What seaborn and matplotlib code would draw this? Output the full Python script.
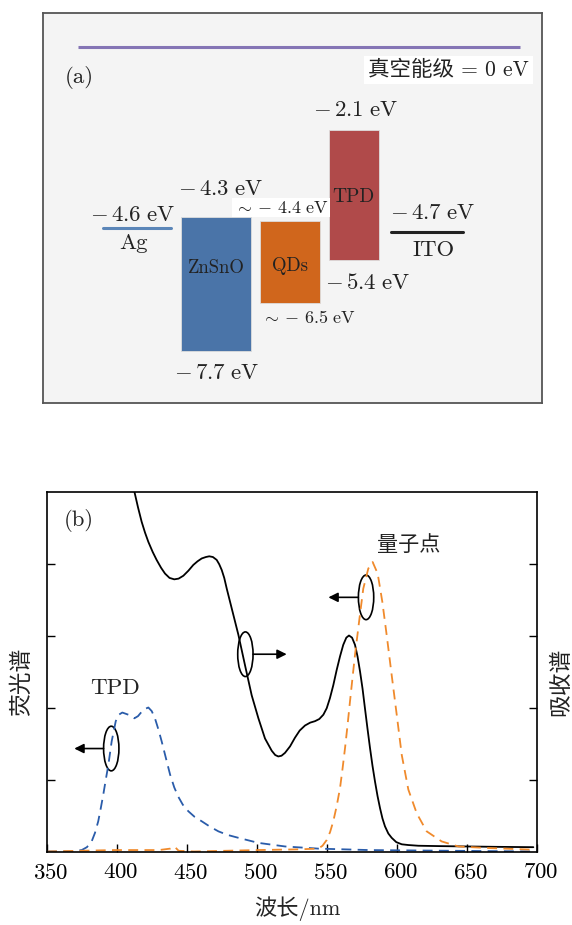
import matplotlib
matplotlib.use("Agg")
import matplotlib.pyplot as plt
import matplotlib.transforms as mtransforms
from matplotlib.patches import Ellipse
import numpy as np
import seaborn as sns

# ---- panel (a): energy levels (eV) ----
layers = ["ZnSnO", "QDs", "TPD"]
cb_edge = [-4.3, -4.4, -2.1]
vb_edge = [-7.7, -6.5, -5.4]
electrodes = ["Ag", "ITO"]
work_fn = [-4.6, -4.7]
vacuum_level = 0.0

# ---- panel (b): spectra ----
abs_wl = [408, 410.5, 412.4, 415, 417.6, 420, 422.4, 425.5, 428.3, 431.5, 434.3, 437.5,
          440.9, 444, 447.4, 451, 454.5, 457.5, 460.5, 463.5, 465.9, 468.5, 471.2, 473,
          474.8, 476.6, 478.4, 481.9, 486.7, 491.4, 496.2, 501.0, 505.7, 510.5, 513,
          515.2, 517.5, 520, 523.6, 527.1, 530.5, 534.3, 538, 541.4, 544.5, 547.4, 549.8,
          552.1, 554.5, 556.9, 559.3, 561.6, 563.8, 565.7, 567.9, 570, 571.8, 573.6,
          575.4, 577.1, 578.9, 580.7, 582.5, 584.3, 586.1, 587.9, 589.6, 591.4, 593.8,
          596.2, 599.5, 603.4, 608, 615.2, 630, 649.8, 670, 697.4]
abs_val = [5.42, 5.18, 5.0, 4.78, 4.58, 4.43, 4.3, 4.16, 4.05, 3.94, 3.86, 3.8,
           3.78, 3.79, 3.83, 3.9, 3.98, 4.03, 4.07, 4.09, 4.1, 4.09, 4.05, 3.99,
           3.91, 3.8, 3.65, 3.38, 3.01, 2.59, 2.17, 1.85, 1.57, 1.4, 1.34,
           1.32, 1.33, 1.37, 1.46, 1.58, 1.68, 1.75, 1.79, 1.81, 1.84, 1.9, 1.99,
           2.13, 2.31, 2.52, 2.71, 2.87, 2.97, 3.0, 2.97, 2.87, 2.71, 2.5,
           2.26, 1.99, 1.71, 1.44, 1.19, 0.97, 0.77, 0.6, 0.46, 0.35, 0.25,
           0.19, 0.13, 0.1, 0.09, 0.08, 0.075, 0.07, 0.065, 0.06]

tpd_wl = [350, 366, 374.8, 378.5, 381.9, 384.3, 386.6, 388.4, 390.2, 392, 393.8, 396.2,
          399.1, 401.3, 403.8, 408.1, 412.4, 415, 417.6, 420, 422.4, 424.8, 427.1, 429.5,
          431.9, 434.9, 437.9, 440.9, 443.8, 447, 450.9, 455.5, 460.5, 466, 472.4, 479,
          486.7, 500.9, 520, 543.8, 580, 640, 700]
tpd_val = [0.0, 0.0, 0.02, 0.06, 0.14, 0.26, 0.42, 0.6, 0.79, 1.0, 1.2, 1.53,
           1.81, 1.9, 1.93, 1.9, 1.85, 1.88, 1.94, 1.98, 2.0, 1.95, 1.85, 1.7,
           1.53, 1.3, 1.07, 0.89, 0.76, 0.65, 0.56, 0.48, 0.42, 0.35, 0.28, 0.23,
           0.19, 0.12, 0.07, 0.04, 0.02, 0.01, 0.0]

qd_wl = [350, 398, 430, 438, 441, 444, 455, 500, 530, 543.8, 546.8, 549.8, 552.2, 554.5,
         556.9, 559.3, 561.1, 562.9, 564.7, 566.4, 568.2, 570, 572.9, 575.9, 579.5, 582.6,
         586.2, 589.5, 592.6, 596.2, 599.8, 603.4, 608.1, 614.1, 621.2, 631.9, 643.8,
         662.9, 697.4]
qd_val = [0.0, 0.02, 0.02, 0.04, 0.07, 0.01, 0.0, 0.02, 0.03, 0.04, 0.08, 0.16, 0.27, 0.42,
          0.63, 0.88, 1.15, 1.44, 1.76, 2.08, 2.41, 2.73, 3.19, 3.65, 3.93, 4.02,
          3.86, 3.47, 3.01, 2.45, 1.9, 1.34, 0.86, 0.53, 0.28, 0.14, 0.07,
          0.05, 0.025]

wl_ticks = [350, 400, 450, 500, 550, 600, 650, 700]

ZNSNO_C, QD_C, TPD_C = "#4a74a8", "#d0661c", "#b04a4a"

sns.set_theme(style="ticks")
plt.rcParams["font.family"] = ["cmr10", "Noto Sans CJK SC", "DejaVu Sans"]
plt.rcParams["mathtext.fontset"] = "cm"
plt.rcParams["axes.formatter.use_mathtext"] = True
plt.rcParams["text.color"] = "#222222"

fig = plt.figure(figsize=(5.72, 9.25), dpi=100)
PX = 0.72  # points per pixel

# ================= panel (a) =================
ax_a = fig.add_axes([43 / 572, 1 - 403 / 925, 499 / 572, 390 / 925])
ax_a.set_facecolor("#f4f4f4")
ax_a.set_xlim(0, 100)
ax_a.set_ylim(-9.02, 0.853)
ax_a.set_xticks([])
ax_a.set_yticks([])
for sp in ax_a.spines.values():
    sp.set_color("#555555")
    sp.set_linewidth(1.3)

centers = [34.7, 49.5, 62.3]
widths = [14.0, 12.0, 10.0]
colors = [ZNSNO_C, QD_C, TPD_C]
heights = np.subtract(cb_edge, vb_edge)
ax_a.bar(centers, heights, bottom=vb_edge, width=widths, color=colors,
         edgecolor="#dddddd", linewidth=0.6, zorder=2)

# vacuum level
ax_a.plot([7.0, 95.6], [vacuum_level, vacuum_level], color="#8575b5", lw=2.2,
          solid_capstyle="butt")
ax_a.text(81.2, -0.59, "真空能级 = 0 eV", fontsize=15.5, ha="center", va="center",
          bbox=dict(facecolor="white", edgecolor="none", pad=3))
ax_a.text(4.4, -0.77, "(a)", fontsize=16.5, ha="left", va="center")

# electrodes
ax_a.plot([12.0, 25.7], [work_fn[0]] * 2, color="#5b86b8", lw=2.2)
ax_a.plot([69.7, 84.2], [work_fn[1]] * 2, color="#222222", lw=2.2)


def elabel(x, e, dy_px, txt, size=16.4, **kw):
    ax_a.annotate(txt, xy=(x, e), xytext=(0, dy_px * PX), textcoords="offset points",
                  ha="center", va="center", fontsize=size, **kw)


ev = lambda v: r"$-\,%.1f\ \mathrm{eV}$" % abs(v)
sim_ev = lambda v: r"$\sim-\,%.1f\ \mathrm{eV}$" % abs(v)
elabel(35.7, cb_edge[0], 27, ev(cb_edge[0]))
elabel(34.9, vb_edge[0], -22, ev(vb_edge[0]))
elabel(47.7, cb_edge[1], 13, sim_ev(cb_edge[1]), size=13,
       bbox=dict(facecolor="white", edgecolor="none", pad=1))
elabel(53.1, vb_edge[1], -14, sim_ev(vb_edge[1]), size=13)
elabel(62.7, cb_edge[2], 19, ev(cb_edge[2]))
elabel(65.1, vb_edge[2], -23, ev(vb_edge[2]))
elabel(18.0, work_fn[0], 13, ev(work_fn[0]))
elabel(18.2, work_fn[0], -15, electrodes[0])
elabel(78.2, work_fn[1], 19, ev(work_fn[1]))
elabel(78.2, work_fn[1], -18, electrodes[1])

ax_a.text(centers[0], -5.6, layers[0], fontsize=13.5, ha="center", va="center", zorder=3)
ax_a.text(centers[1], -5.55, layers[1], fontsize=13.5, ha="center", va="center", zorder=3)
ax_a.text(centers[2], -3.8, layers[2], fontsize=14, ha="center", va="center", zorder=3)

# ================= panel (b) =================
ax_b = fig.add_axes([47 / 572, 1 - 851.5 / 925, 490 / 572, 360 / 925])
sns.lineplot(x=abs_wl, y=abs_val, ax=ax_b, color="black", lw=1.3, sort=False)
sns.lineplot(x=tpd_wl, y=tpd_val, ax=ax_b, color="#2a5caa", lw=1.3, sort=False,
             linestyle=(0, (5.5, 3.5)))
sns.lineplot(x=qd_wl, y=qd_val, ax=ax_b, color="#f08a2c", lw=1.3, sort=False,
             linestyle=(0, (5.5, 3.5)))

ax_b.set_xlim(350, 700)
ax_b.set_ylim(0, 5)
ax_b.set_xticks(wl_ticks)
ax_b.set_yticks([1, 2, 3, 4])
ax_b.set_yticklabels([])
ax_b.tick_params(direction="in", length=5.5, width=1, labelsize=16.5, right=True,
                 colors="black", pad=8)
shift = mtransforms.ScaledTranslation(3.5 / 100, 0, fig.dpi_scale_trans)
for lab in ax_b.get_xticklabels():
    lab.set_transform(lab.get_transform() + shift)
for sp in ax_b.spines.values():
    sp.set_color("black")
    sp.set_linewidth(1.2)
ax_b.set_xlabel("波长/nm", fontsize=16, labelpad=11)
ax_b.xaxis.set_label_coords(0.51, -0.125)
ax_b.text(-0.0516, 0.47, "荧光谱", transform=ax_b.transAxes, rotation=90, fontsize=16.4,
          ha="center", va="center")
ax_b.text(1.049, 0.47, "吸收谱", transform=ax_b.transAxes, rotation=90, fontsize=16.4,
          ha="center", va="center")

for (cx, cy), tip in [((395.9, 1.43), 369.5), ((491.7, 2.74), 521.2), ((577.9, 3.53), 551.0)]:
    ax_b.add_patch(Ellipse((cx, cy), 10.95, 0.62, fill=False, ec="black", lw=1.2))
    start = cx - 5.5 if tip < cx else cx + 5.5
    ax_b.annotate("", xy=(tip, cy), xytext=(start, cy),
                  arrowprops=dict(arrowstyle="-|>", color="black", lw=1.2,
                                  mutation_scale=14, shrinkA=0, shrinkB=0))

ax_b.text(372.4, 4.6, "(b)", fontsize=16.3, ha="center", va="center")
ax_b.text(398.6, 2.27, "TPD", fontsize=16.6, ha="center", va="center")
ax_b.text(608.1, 4.26, "量子点", fontsize=15.2, ha="center", va="center")

fig.savefig("out.png", dpi=100)
